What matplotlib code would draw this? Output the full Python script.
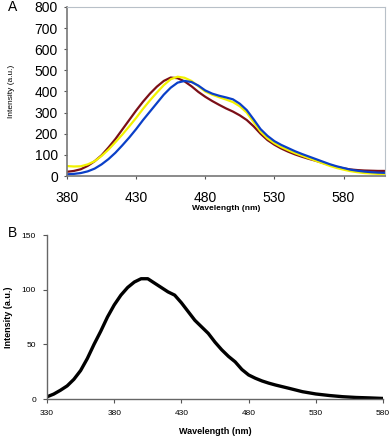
import numpy as np
import matplotlib
matplotlib.use("Agg")
import matplotlib.pyplot as plt

plt.rcParams['font.family'] = ['Liberation Sans', 'DejaVu Sans']

# Panel A: three emission spectra (read every 5 nm)
wl_a = list(range(380, 611, 5))
maroon = [20, 24, 32, 48, 70, 98, 135, 175, 220, 265, 310, 352, 390, 423, 450, 466,
          463, 448, 425, 398, 375, 355, 337, 320, 305, 287, 265, 235, 200, 170, 148,
          130, 115, 102, 91, 81, 72, 62, 52, 43, 36, 31, 28, 26, 25, 24, 24]
yellow = [47, 45, 46, 55, 70, 95, 125, 160, 196, 235, 275, 318, 358, 395, 430, 458,
          470, 465, 450, 425, 400, 385, 373, 362, 350, 330, 300, 255, 210, 178, 155,
          137, 122, 108, 96, 84, 72, 60, 48, 38, 30, 23, 18, 14, 12, 10, 9]
blue = [8, 10, 14, 22, 35, 55, 80, 110, 145, 182, 222, 265, 305, 345, 385, 418,
        442, 450, 445, 428, 405, 390, 380, 372, 363, 342, 312, 268, 222, 190, 165,
        147, 132, 117, 104, 92, 80, 68, 56, 46, 38, 30, 25, 21, 18, 16, 15]

# Panel B: single spectrum
wl_b = [330, 335, 340, 345, 350, 355, 360, 365, 370, 375, 380, 385, 390, 395, 400, 405,
        410, 415, 420, 425, 430, 435, 440, 445, 450, 455, 460, 465, 470, 475, 480, 485,
        490, 495, 500, 510, 520, 530, 540, 550, 560, 570, 580]
inten_b = [2, 4.5, 8, 12, 18, 26, 37, 50, 62, 75, 86, 95, 102, 107, 110, 110,
           106, 102, 98, 95, 88, 80, 72, 66, 60, 52, 45, 39, 34, 27, 22, 19,
           16.5, 14.5, 12.8, 9.8, 6.7, 4.6, 3.2, 2.1, 1.4, 1.0, 0.5]

fig = plt.figure(figsize=(3.92, 4.36), dpi=100)

# --- A ---
axA = fig.add_axes([67/392, 1 - 176/436, 318/392, 169/436])
axA.plot(wl_a, maroon, color='#7b0f17', lw=1.6)
axA.plot(wl_a, yellow, color='#f2f200', lw=1.6)
axA.plot(wl_a, blue, color='#0a3fc8', lw=1.6)
axA.set_xlim(380, 610)
axA.set_ylim(0, 800)
axA.set_xticks([380, 430, 480, 530, 580])
axA.set_yticks(range(0, 801, 100))
axA.tick_params(labelsize=10, length=2.5, width=0.8, color='#555555', pad=8)
axA.tick_params(axis='y', pad=4)
for s in ['left', 'bottom']:
    axA.spines[s].set_color('#777777')
    axA.spines[s].set_linewidth(1.2)
for s in ['top', 'right']:
    axA.spines[s].set_color('#b8c0c8')
    axA.spines[s].set_linewidth(0.8)
axA.set_xlabel('Wavelength (nm)', fontsize=6, fontweight='bold', labelpad=0)
axA.set_ylabel('Intensity (a.u.)', fontsize=6)
axA.yaxis.set_label_coords(-0.163, 0.5)
fig.text(8/392, 1 - 7/436, 'A', fontsize=10, ha='left', va='center')

# --- B ---
axB = fig.add_axes([47/392, 1 - 399/436, 336/392, 164/436])
axB.plot(wl_b, inten_b, color='black', lw=2.4, solid_capstyle='butt')
axB.set_xlim(330, 580)
axB.set_ylim(0, 150)
axB.set_xticks(range(330, 581, 50))
axB.set_yticks([0, 50, 100, 150])
axB.spines['top'].set_visible(False)
axB.spines['right'].set_visible(False)
for s in ['left', 'bottom']:
    axB.spines[s].set_color('#666666')
    axB.spines[s].set_linewidth(1.0)
axB.tick_params(labelsize=6, length=3, width=0.8, color='#555555', pad=5)
axB.set_xlabel('Wavelength (nm)', fontsize=6.5, fontweight='bold', labelpad=7)
axB.set_ylabel('Intensity (a.u.)', fontsize=6.5, fontweight='bold')
axB.yaxis.set_label_coords(-0.101, 0.5)
fig.text(8/392, 1 - 233/436, 'B', fontsize=10, ha='left', va='center')

fig.savefig('out.png', dpi=100)
